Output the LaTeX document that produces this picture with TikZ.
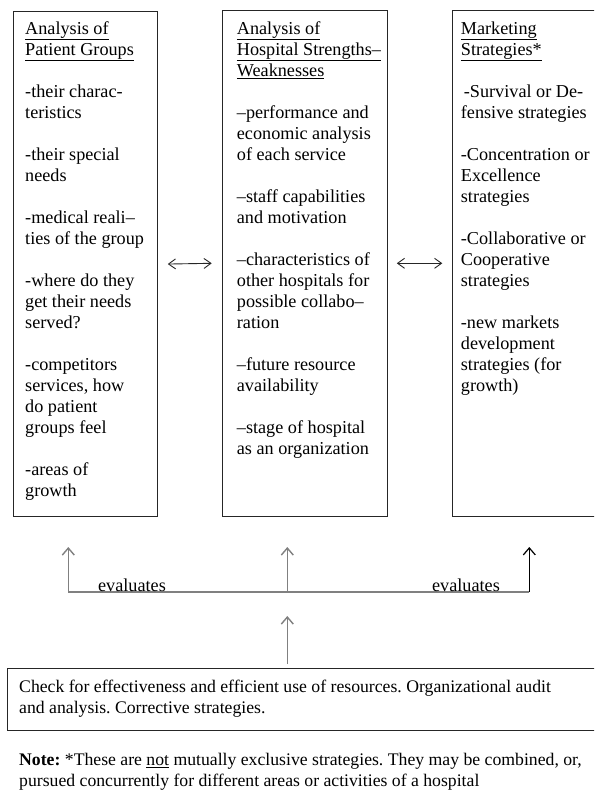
\documentclass[tikz,border=0pt]{standalone}
\usepackage{fontspec}
\setmainfont{Liberation Serif}
\usetikzlibrary{arrows.meta}
\frenchspacing
\begin{document}
\begin{tikzpicture}[x=1pt,y=-1pt,
  txt/.style={anchor=north west, inner sep=0pt, align=left, font=\fontsize{18.2}{21}\selectfont},
  wtxt/.style={anchor=north west, inner sep=0pt, align=left, font=\fontsize{17.7}{21}\selectfont},
  lbl/.style={inner sep=0pt, font=\fontsize{18.2}{21}\selectfont},
  panel/.style={draw=black!85, line width=1.1pt, rectangle, anchor=north west, inner sep=0pt},
  tip/.style={-{Straight Barb[length=7pt,width=12pt]}},
  dbl/.style={{Straight Barb[length=7pt,width=10pt]}-{Straight Barb[length=7pt,width=10pt]}, line width=0.9pt, draw=black!85},
  feed/.style={draw=black!50, line width=1.4pt}]
\useasboundingbox (0,0) rectangle (594,791);
\clip (0,0) rectangle (594,791);

% panels
\node[panel, minimum width=144pt, minimum height=505pt] (b1) at (12.7,11) {};
\node[panel, minimum width=165pt, minimum height=505.5pt] (b2) at (221.7,10) {};
\node[panel, minimum width=160pt, minimum height=505.5pt] (b3) at (452.3,10) {};

% panel texts
\node[txt] (t1) at (25,19.3) {\strut\underline{Analysis of}\\
\underline{Patient Groups}\\[21pt]
-their charac-\\
teristics\\[21pt]
-their special\\
needs\\[21pt]
-medical reali--\\
ties of the group\\[21pt]
-where do they\\
get their needs\\
served?\\[21pt]
-competitors\\
services, how\\
do patient\\
groups feel\\[21pt]
-areas of\\
growth};

\node[txt] (t2) at (236.7,19.3) {\strut\underline{Analysis of}\\
\underline{Hospital Strengths--}\\
\underline{Weaknesses}\\[21pt]
--performance and\\
economic analysis\\
of each service\\[21pt]
--staff capabilities\\
and motivation\\[21pt]
--characteristics of\\
other hospitals for\\
possible collabo--\\
ration\\[21pt]
--future resource\\
availability\\[21pt]
--stage of hospital\\
as an organization};

\node[txt] (t3) at (460.7,19.3) {\strut\underline{Marketing}\\
\underline{Strategies*}\\[21pt]
\hspace{3pt}-Survival or De-\\
fensive strategies\\[21pt]
-Concentration or\\
Excellence\\
strategies\\[21pt]
-Collaborative or\\
Cooperative\\
strategies\\[21pt]
-new markets\\
development\\
strategies (for\\
growth)};

% double arrows between panels
\draw[dbl] ([xshift=10pt]b1.east) -- ([xshift=-10pt]b2.west);
\draw[dbl] ([xshift=9pt]b2.east) -- ([xshift=-10pt]b3.west);

% feedback structure
\coordinate (eL) at (68.3,592);
\coordinate (eM) at (287.3,592);
\coordinate (eR) at (529.3,592);
\coordinate (tL) at (68.3,547);
\coordinate (tM) at (287.3,547);
\coordinate (tR) at (529.3,547);
\draw[feed] (eL) -- (eR);
\draw[feed, tip] (eL) -- (tL);
\draw[feed, tip] (eM) -- (tM);
\draw[tip, black, line width=1.2pt] (eR) -- (tR);
\node[lbl] (ev1) at (132,585) {evaluates};
\node[lbl] (ev2) at (466,585) {evaluates};

% check box
\node[panel, minimum width=604pt, minimum height=62pt] (chk) at (6.8,668) {};
\node[wtxt] (chktext) at (19,677.3) {\strut Check for effectiveness and efficient use of resources. Organizational audit\\
and analysis. Corrective strategies.};
\coordinate (m0) at (287.3,664);
\coordinate (m1) at (287.3,616);
\draw[feed, tip] (m0) -- (m1);

% note
\node[wtxt] (note) at (19,750.3) {\strut\textbf{Note:} *These are \underline{not} mutually exclusive strategies. They may be combined, or,\\
pursued concurrently for different areas or activities of a hospital};
\end{tikzpicture}
\end{document}
